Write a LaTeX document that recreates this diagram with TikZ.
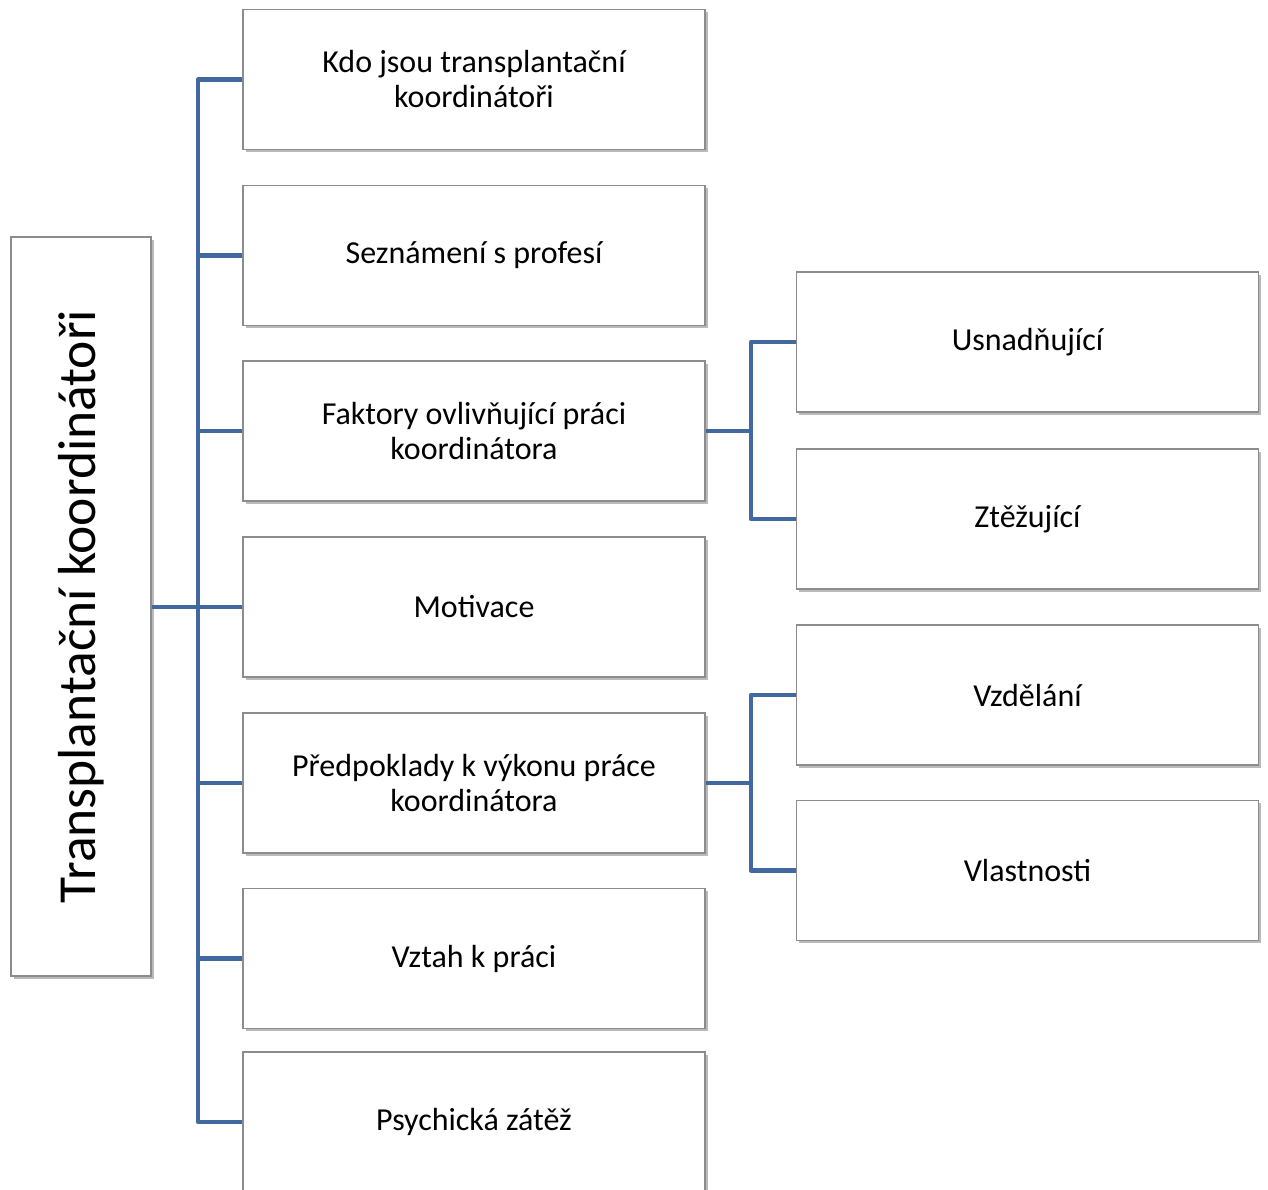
\documentclass[tikz,border=0pt]{standalone}
\usepackage{fontspec}
\setmainfont{Carlito}
\usetikzlibrary{shadows}
\definecolor{linkc}{HTML}{41699F}
\definecolor{boxline}{HTML}{8C8C8C}
\tikzset{
  topic/.style={draw=boxline, line width=1.2pt, fill=white, minimum width=462pt, minimum height=140pt, align=center, inner sep=0pt,
    font=\fontsize{32}{35}\selectfont, drop shadow={shadow xshift=2.5pt, shadow yshift=-2.5pt, opacity=0.45, fill=black!60}},
  rootbox/.style={draw=boxline, line width=1.2pt, fill=white, minimum width=140pt, minimum height=739pt, inner sep=0pt,
    drop shadow={shadow xshift=2.5pt, shadow yshift=-2.5pt, opacity=0.45, fill=black!60}},
  link/.style={draw=linkc, line width=4.5pt, line join=round}
}
\begin{document}
\begin{tikzpicture}[x=1pt,y=-1pt]
\useasboundingbox (0,0) rectangle (1268,1189);
\begin{scope}
\clip (0,0) rectangle (1268,1189);
\node[rootbox] (root) at (81,606.5) {};
\node[rotate=90, font=\fontsize{53.5}{60}\selectfont] (roottext) at (81,606.5) {Transplantační koordinátoři};
\node[topic] (a1) at (474,79.5) {Kdo jsou transplantační\\koordinátoři};
\node[topic] (a2) at (474,255.5) {Seznámení s profesí};
\node[topic] (a3) at (474,431) {Faktory ovlivňující práci\\koordinátora};
\node[topic] (a4) at (474,607) {Motivace};
\node[topic] (a5) at (474,783) {Předpoklady k výkonu práce\\koordinátora};
\node[topic] (a6) at (474,958.5) {Vztah k práci};
\node[topic] (a7) at (474,1122) {Psychická zátěž};
\node[topic] (b1) at (1027.5,342) {Usnadňující};
\node[topic] (b2) at (1027.5,519) {Ztěžující};
\node[topic] (b3) at (1027.5,695) {Vzdělání};
\node[topic] (b4) at (1027.5,870.5) {Vlastnosti};
\coordinate (busL) at (198,0);
\coordinate (busR) at (751,0);
\draw[link] (a1.west) -| (busL |- a7.west) -- (a7.west);
\foreach \n in {a2,a3,a4,a5,a6} \draw[link] (busL |- \n.west) -- (\n.west);
\draw[link] (root.east |- a4.west) -- (busL |- a4.west);
\draw[link] (b1.west) -| (busR |- b2.west) -- (b2.west);
\draw[link] (a3.east) -- (busR |- a3.east);
\draw[link] (b3.west) -| (busR |- b4.west) -- (b4.west);
\draw[link] (a5.east) -- (busR |- a5.east);
\end{scope}
\end{tikzpicture}
\end{document}
